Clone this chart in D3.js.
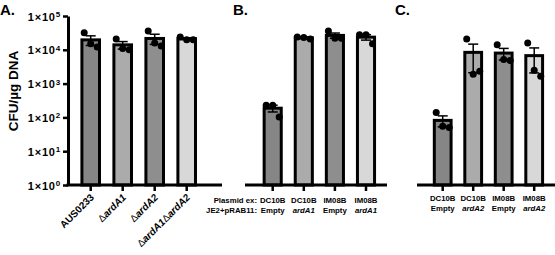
<!DOCTYPE html>
<html>
<head>
<meta charset="utf-8">
<script src="https://cdn.jsdelivr.net/npm/d3@7"></script>
<style>
  body { margin: 0; background: #fff; }
  svg { font-family: "Liberation Sans", Arial, sans-serif; font-weight: bold; }
</style>
</head>
<body>
<div id="chart"></div>
<script>
// values (CFU/ug DNA, three replicates per bar)
const labelsA = ["AUS0233", "ΔardA1", "ΔardA2", "ΔardA1ΔardA2"];
const pointsA = [[32000, 15000, 12000], [21000, 11000, 10000], [36000, 16000, 13000], [24000, 20000, 20000]];

const labelsB = [["DC10B", "Empty"], ["DC10B", "ardA1"], ["IM08B", "Empty"], ["IM08B", "ardA1"]];
const pointsB = [[230, 230, 102], [24000, 23000, 21000], [36000, 22000, 22000], [28000, 28000, 15000]];

const labelsC = [["DC10B", "Empty"], ["DC10B", "ardA2"], ["IM08B", "Empty"], ["IM08B", "ardA2"]];
const pointsC = [[140, 55, 50], [21000, 1900, 2300], [14000, 5200, 4800], [16000, 2500, 1650]];

const yTicks = [1, 10, 100, 1000, 10000, 100000];
const barColors = ["#868686", "#ababab", "#8e8e8e", "#d8d8d8"];

const width = 555, height = 255;
const svg = d3.select("#chart").append("svg")
    .attr("width", width)
    .attr("height", height);

const y = d3.scaleLog().domain([1, 1e5]).range([185, 16]);

// y axis (only on panel A)
const yAxis = svg.append("g")
    .attr("transform", "translate(68,0)")
    .call(d3.axisLeft(y).tickValues(yTicks).tickSize(5).tickSizeOuter(0).tickFormat(() => ""));
yAxis.select(".domain").attr("stroke-width", 3);
yAxis.selectAll(".tick line").attr("stroke-width", 2.5);
yAxis.selectAll(".tick text")
    .attr("x", -7)
    .attr("dy", "0.38em")
    .attr("font-size", 11)
    .attr("letter-spacing", 0.8)
    .attr("font-weight", "bold")
    .attr("fill", "#000")
    .each(function (d) {
        const t = d3.select(this);
        t.append("tspan").text("1×10");
        t.append("tspan").attr("dy", "-0.45em").attr("font-size", 8).text(Math.round(Math.log10(d)));
    });

svg.append("text")
    .attr("transform", "translate(18,91) rotate(-90)")
    .attr("text-anchor", "middle")
    .attr("font-size", 13.5)
    .text("CFU/µg DNA");

function sem(v) {
    const m = d3.mean(v);
    return Math.sqrt(d3.sum(v, d => (d - m) ** 2) / (v.length - 1)) / Math.sqrt(v.length);
}

// one panel: bars, error bars, dots and x axis
function panel(keys, points, x0, x1, first, step) {
    const x = d3.scaleBand()
        .domain(keys)
        .range([first - step / 2, first - step / 2 + step * keys.length])
        .paddingInner(0.45)
        .paddingOuter(0.225);

    const g = svg.append("g");
    keys.forEach((k, i) => {
        const v = points[i];
        const m = d3.mean(v), s = sem(v);
        const cx = x(k) + x.bandwidth() / 2;
        g.append("rect")
            .attr("x", x(k))
            .attr("y", y(m))
            .attr("width", x.bandwidth())
            .attr("height", y(1) - y(m))
            .attr("fill", barColors[i])
            .attr("stroke", "#000")
            .attr("stroke-width", 3);
        const lo = Math.max(m - s, 1);
        g.append("line")
            .attr("x1", cx).attr("x2", cx)
            .attr("y1", y(m + s)).attr("y2", y(lo))
            .attr("stroke", "#000").attr("stroke-width", 1.5);
        [m + s, lo].forEach(val => {
            g.append("line")
                .attr("x1", cx - 5).attr("x2", cx + 5)
                .attr("y1", y(val)).attr("y2", y(val))
                .attr("stroke", "#000").attr("stroke-width", 1.5);
        });
        g.selectAll(null)
            .data(v)
            .enter()
            .append("circle")
            .attr("cx", (d, j) => cx + (j - 1) * 6.5)
            .attr("cy", d => y(d))
            .attr("r", 3.5)
            .attr("fill", "#000");
    });

    const ax = svg.append("g")
        .attr("transform", "translate(0,185)")
        .call(d3.axisBottom(x).tickSize(6).tickFormat(() => ""));
    ax.select(".domain").remove();
    ax.selectAll(".tick line").attr("stroke-width", 2.5);
    ax.append("line")
        .attr("x1", x0).attr("x2", x1)
        .attr("y1", 0).attr("y2", 0)
        .attr("stroke", "#000").attr("stroke-width", 3);
    return x;
}

const xA = panel(labelsA, pointsA, 66.5, 222, 90.7, 32);
const xB = panel(labelsB.map(d => d.join(" ")), pointsB, 245, 387, 272.7, 31.1);
const xC = panel(labelsC.map(d => d.join(" ")), pointsC, 417, 555, 442.7, 30.5);

// panel A rotated labels, italic gene names
labelsA.forEach(lab => {
    const cx = xA(lab) + xA.bandwidth() / 2;
    const t = svg.append("text")
        .attr("transform", `translate(${cx + 4},${198}) rotate(-45)`)
        .attr("text-anchor", "end")
        .attr("font-size", 10);
    lab.split(/(Δ)/).filter(s => s).forEach(s => {
        t.append("tspan")
            .attr("font-style", s === "Δ" || s === "AUS0233" ? "normal" : "italic")
            .attr("font-weight", s === "Δ" ? "normal" : "bold")
            .text(s);
    });
});

function twoRowLabels(x, labels, yy) {
    labels.forEach(d => {
        const cx = x(d.join(" ")) + x.bandwidth() / 2;
        svg.append("text").attr("x", cx).attr("y", yy[0])
            .attr("text-anchor", "middle").attr("font-size", 7.8).text(d[0]);
        svg.append("text").attr("x", cx).attr("y", yy[1])
            .attr("text-anchor", "middle").attr("font-size", 7.8)
            .attr("font-style", d[1] === "Empty" ? "normal" : "italic")
            .text(d[1]);
    });
}
twoRowLabels(xB, labelsB, [203, 213]);
twoRowLabels(xC, labelsC, [201, 211]);

svg.append("text").attr("x", 257).attr("y", 203).attr("text-anchor", "end")
    .attr("font-size", 7.8).text("Plasmid ex:");
svg.append("text").attr("x", 257).attr("y", 213).attr("text-anchor", "end")
    .attr("font-size", 7.8).text("JE2+pRAB11:");

// panel letters
[["A.", 0, 15], ["B.", 233, 15], ["C.", 395, 15]].forEach(([s, px, py]) => {
    svg.append("text").attr("x", px).attr("y", py).attr("font-size", 15).text(s);
});
</script>
</body>
</html>
